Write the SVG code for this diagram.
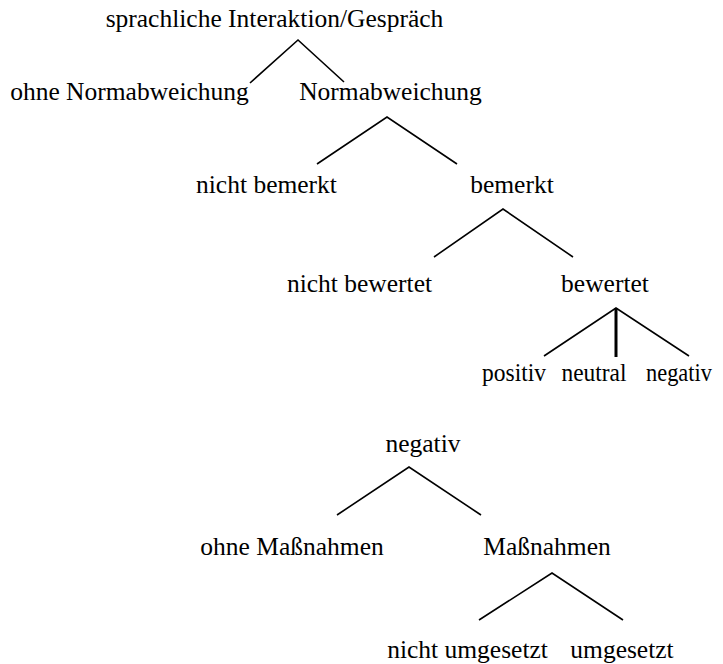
<svg xmlns="http://www.w3.org/2000/svg" width="723" height="664" viewBox="0 0 723 664">
<style>
text{font-family:"Liberation Serif","DejaVu Serif",serif;font-size:25.5px;fill:#000;text-anchor:middle}
.e{stroke:#000;stroke-width:1.6;fill:none;stroke-linecap:butt}
.t{stroke-width:3}
</style>
<rect width="723" height="664" fill="#fff"/>
<g id="edges">
<path class="e" d="M250,83 L298,40 L344,82"/>
<path class="e" d="M317,164 L387,117 L457,164"/>
<path class="e" d="M434,257 L503,209 L573,257"/>
<path class="e" d="M544,356 L616,308 L689,356"/>
<path class="e t" d="M616,308 L616,357"/>
<path class="e" d="M337,515 L409,467 L481,515"/>
<path class="e" d="M479,620 L552,573 L623,620"/>
</g>
<g id="n-root"><text x="274.5" y="27">sprachliche Interaktion/Gespräch</text></g>
<g id="n-ohne"><text x="129.5" y="100">ohne Normabweichung</text></g>
<g id="n-norm"><text x="390.5" y="100">Normabweichung</text></g>
<g id="n-nichtbemerkt"><text x="266.5" y="193">nicht bemerkt</text></g>
<g id="n-bemerkt"><text x="512" y="193">bemerkt</text></g>
<g id="n-nichtbewertet"><text x="359.5" y="292">nicht bewertet</text></g>
<g id="n-bewertet"><text x="605" y="292">bewertet</text></g>
<g id="n-positiv"><text x="514" y="381" textLength="64" lengthAdjust="spacingAndGlyphs">positiv</text></g>
<g id="n-neutral"><text x="594" y="381" textLength="65" lengthAdjust="spacingAndGlyphs">neutral</text></g>
<g id="n-negativ1"><text x="679" y="381" textLength="66" lengthAdjust="spacingAndGlyphs">negativ</text></g>
<g id="n-negativ2"><text x="423" y="452">negativ</text></g>
<g id="n-ohnemass"><text x="292" y="555">ohne Maßnahmen</text></g>
<g id="n-mass"><text x="547" y="555">Maßnahmen</text></g>
<g id="n-nichtumg"><text x="467.5" y="658">nicht umgesetzt</text></g>
<g id="n-umg"><text x="622" y="658">umgesetzt</text></g>
</svg>
